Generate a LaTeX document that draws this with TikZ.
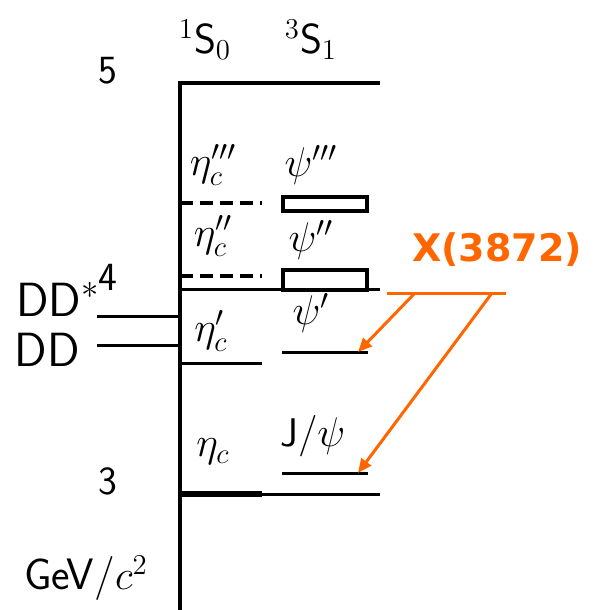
\documentclass[tikz,border=0pt]{standalone}
\usepackage{fontspec}
\newfontfamily\xfont{DejaVu Sans}
\usetikzlibrary{arrows.meta}
\definecolor{xorange}{RGB}{255,102,0}

\begin{document}
\begin{tikzpicture}[
    x=0.5pt, y=-0.5pt,
    font=\fontsize{20}{22}\selectfont\sffamily,
    >={Triangle[length=7pt,width=6pt]},
    % Level styles
    axis/.style={line width=2pt, draw=black},
    lvl/.style={line width=1.5pt, draw=black},
    pred/.style={line width=2pt, draw=black, dash pattern=on 6.5pt off 3.5pt},
    wide/.style={rectangle, draw=black, line width=2.2pt, fill=white},
    lab/.style={inner sep=1pt},
    big/.style={lab, font=\fontsize{24}{26}\selectfont\sffamily},
    % Arrow styles
    xline/.style={line width=1.5pt, draw=xorange},
    xarr/.style={->, line width=1.5pt, draw=xorange, fill=xorange}
]
\useasboundingbox (0,0) rectangle (600,610);

% ==========================================
% AXIS & SCALE
% ==========================================
\draw[axis] (380,83) -- (180,83) -- (180,610);
\draw[lvl] (180,289) -- (380,289);
\draw[lvl] (180,494) -- (380,494);
\node[lab] (g5) at (108,71) {5};
\node[lab] (g4) at (108,277) {4};
\node[lab] (g3) at (108,481) {3};
\node[big, font=\fontsize{22}{24}\selectfont\sffamily] (unit) at (86,578) {GeV/$c^2$};

% --- Column headers ---
\node[lab, font=\fontsize{21}{23}\selectfont\sffamily] (singlet) at (205,40) {$^1$S$_0$};
\node[lab, font=\fontsize{21}{23}\selectfont\sffamily] (triplet) at (311,40) {$^3$S$_1$};

% ==========================================
% THRESHOLDS
% ==========================================
\draw[lvl] (97,316) -- (180,316);
\draw[lvl] (97,345) -- (180,345);
\node[big] (dds) at (58,299) {DD$^*$};
\node[big] (dd) at (47,350) {DD};

% ==========================================
% 1S0 LEVELS
% ==========================================
\draw[pred] (180,203) -- (262,203);
\draw[pred] (180,276) -- (262,276);
\draw[lvl] (180,363) -- (262,363);
\draw[line width=3pt] (180,494) -- (262,494);
\node[lab] (etac3) at (213,165) {$\eta_c'''$};
\node[lab] (etac2) at (213,236) {$\eta_c''$};
\node[lab] (etac1) at (211,331) {$\eta_c'$};
\node[lab] (etac) at (213,452) {$\eta_c$};

% ==========================================
% 3S1 LEVELS
% ==========================================
\node[lab] (psi3) at (311,165) {$\psi'''$};
\node[lab] (psi2) at (311,240) {$\psi''$};
\node[lab] (psi1lab) at (311,313) {$\psi'$};
\node[lab] (jpsilab) at (313,436) {J$/\psi$};
\node[wide, minimum width=42pt, minimum height=7pt] (psi3box) at (325,204) {};
\node[wide, minimum width=42pt, minimum height=10pt] (psi2box) at (325,280) {};
\draw[lvl] (282,352) -- (368,352) coordinate (psi1);
\draw[lvl] (282,473) -- (368,473) coordinate (jpsi);

% ==========================================
% X(3872)
% ==========================================
\node[lab, text=xorange, font=\fontsize{19}{21}\selectfont\xfont\bfseries] (x3872) at (497,250) {X(3872)};
\coordinate (xl) at (387,293);
\coordinate (xr) at (506,293);
\draw[xline] (xl) -- (xr);
\draw[xarr] (415,293) -- ([xshift=-5pt]psi1);
\draw[xarr] (492,293) -- ([xshift=-5pt]jpsi);

\end{tikzpicture}
\end{document}
